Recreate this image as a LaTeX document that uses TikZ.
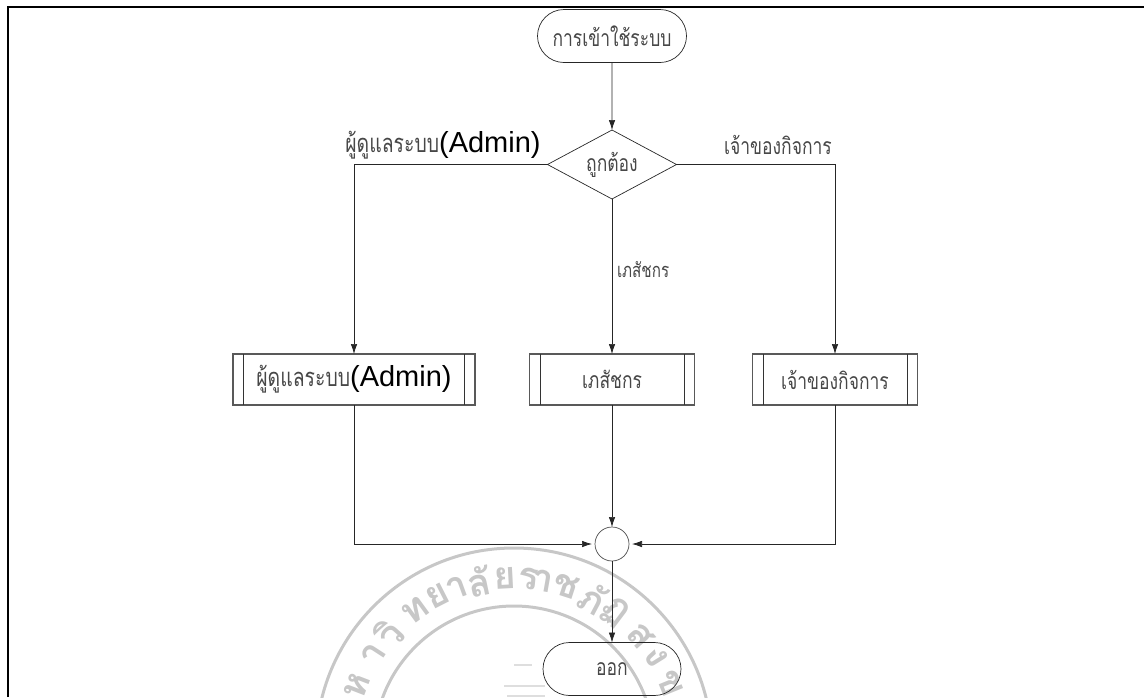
\documentclass[tikz,border=0pt]{standalone}
\usepackage{fontspec}
\setmainfont{Liberation Sans}
\newfontfamily\thaifont[Script=Thai,FakeStretch=0.76]{Loma}
\newfontfamily\sealfont[Script=Thai]{Loma}
\usetikzlibrary{shapes.geometric,shapes.misc,arrows.meta}
\newcommand{\adm}{\fontsize{29}{32}\selectfont\rmfamily\color{black}(Admin)}
\newcommand{\ths}{\fontsize{25.5}{28}\selectfont}
\begin{document}
\begin{tikzpicture}[x=1pt,y=-1pt,
  line width=0.7pt,
  every node/.style={inner sep=0pt,outer sep=0pt},
  lbl/.style={font=\fontsize{23}{26}\selectfont\thaifont,text=black!72},
  arr/.style={-{Latex[length=10pt,width=6.5pt]},line width=0.7pt,draw=black!85},
  termbox/.style={draw=black!85,rounded rectangle,minimum width=#1,minimum height=53pt,lbl},
  subbox/.style={draw=black!65,rectangle,minimum height=51pt,lbl,line width=1.1pt},
  inner/.style={draw=black!80,line width=0.7pt},
  seal/.style={draw=black!22,line width=3pt},
  sealtxt/.style={font=\fontsize{38}{40}\selectfont\sealfont\bfseries,text=black!22}]
\useasboundingbox (0,0) rectangle (1144,697);
% watermark
\begin{scope}
\clip (0,0) rectangle (1144,697);
\draw[seal] (514,746) circle (198);
\draw[seal] (514,746) circle (140);
\foreach \c/\a [count=\i] in {ห/-69,า/-57,วิ/-48,ท/-36,ย/-27,า/-20,ลั/-12,ย/-3,ร/5,า/10,ช/18,ภั/28,ฏ/37,ส/49,ง/58,ข/68}{
  \node[sealtxt,rotate=-\a,anchor=center] (wm\i) at ({514+168*sin(\a)},{746-168*cos(\a)}) {\c};
}
\draw[draw=black!13,line width=1.2pt] (514,665) -- (532,665) (504,686) -- (545,686) (507,696) -- (545,696);
\end{scope}
\draw[line width=2.2pt] (8,697) -- (8,6.7) -- (1144,6.7);
% nodes
\node[termbox=149pt] (start) at (612,36) {การเข้าใช้ระบบ};
\node[draw=black!85,diamond,aspect=1.87,minimum width=129pt,minimum height=69pt,lbl] (check) at (612,164.5) {ถูกต้อง};
\node[subbox,minimum width=242pt] (admin) at (354,379.5) {\ths ผู้ดูแลระบบ\adm};
\node[subbox,minimum width=165pt] (pharm) at (612,379.5) {เภสัชกร};
\node[subbox,minimum width=165pt] (owner) at (835,379.5) {เจ้าของกิจการ};
\node[draw=black!70,circle,minimum size=34pt] (join) at (612,544) {};
\node[termbox=138pt] (stop) at (612,669) {ออก};
% edge labels
\node[lbl] (ladmin) at (443,145) {\ths ผู้ดูแลระบบ\adm};
\node[lbl,font=\fontsize{20}{23}\selectfont\thaifont,anchor=west] (lpharm) at (617,270) {เภสัชกร};
\node[lbl] (lowner) at (778,145) {เจ้าของกิจการ};
% inner bars
\foreach \n in {admin,pharm,owner}{
  \draw[inner] ([xshift=10.5pt]\n.north west) -- ([xshift=10.5pt]\n.south west);
  \draw[inner] ([xshift=-10.5pt]\n.north east) -- ([xshift=-10.5pt]\n.south east);
}
% connectors
\draw[arr] (start) -- (check);
\draw[arr] (check.west) -| (admin.north);
\draw[arr] (check) -- (pharm);
\draw[arr] (check.east) -| (owner.north);
\draw[arr,shorten >=3pt] (admin.south) |- (join.west);
\draw[arr] (pharm) -- (join);
\draw[arr,shorten >=3pt] (owner.south) |- (join.east);
\draw[arr] (join) -- (stop);
\end{tikzpicture}
\end{document}
